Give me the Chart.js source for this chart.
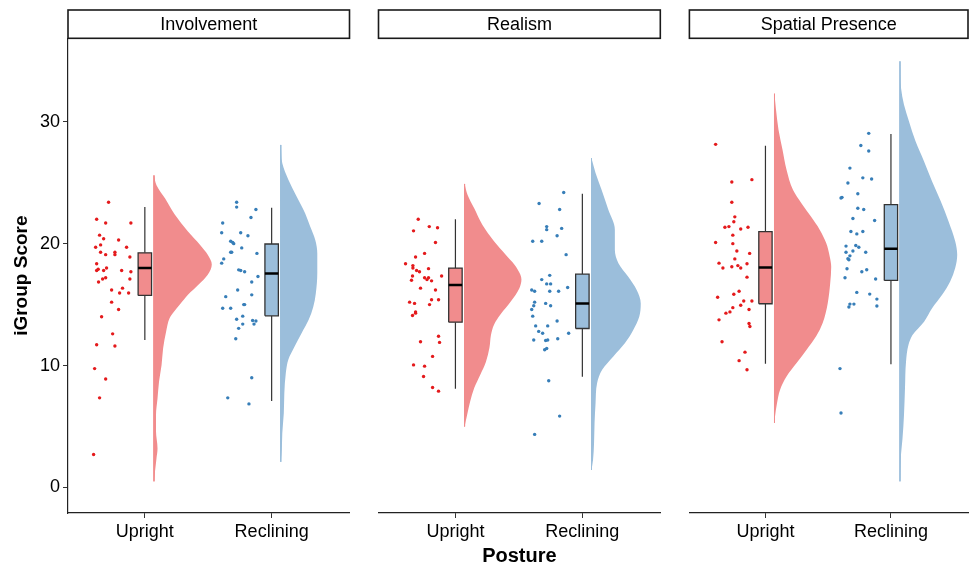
<!DOCTYPE html>
<html>
<head>
<meta charset="utf-8">
<script src="https://cdn.jsdelivr.net/npm/chart.js@4.4.1/dist/chart.umd.min.js"></script>
<style>
body { margin: 0; background: #fff; }
#wrap { position: relative; width: 972px; height: 568px; }
#wrap canvas { position: absolute; left: 0; top: 0; }
</style>
</head>
<body>
<div id="wrap">
  <canvas id="c0" width="972" height="568"></canvas>
  <canvas id="c1" width="972" height="568"></canvas>
  <canvas id="c2" width="972" height="568"></canvas>
</div>
<script>
var facets = ['Involvement', 'Realism', 'Spatial Presence'];
var postures = ['Upright', 'Reclining'];
var yTicks = [0, 10, 20, 30];

// points: [jitter offset from category, score]
var involvementUpright = [[-0.286,23.4],[-0.380,22.0],[-0.309,21.7],[-0.110,21.7],[-0.357,20.7],[-0.325,20.4],[-0.207,20.3],[-0.349,19.9],[-0.388,19.7],[-0.144,19.7],[-0.349,19.3],[-0.236,19.3],[-0.309,19.1],[-0.236,19.1],[-0.118,18.9],[-0.380,18.35],[-0.302,18.0],[-0.368,17.9],[-0.380,17.8],[-0.325,17.8],[-0.183,17.8],[-0.110,17.7],[-0.309,17.2],[-0.333,17.1],[-0.118,17.1],[-0.365,16.85],[-0.176,16.35],[-0.262,16.2],[-0.199,15.95],[-0.128,15.95],[-0.262,15.2],[-0.207,14.6],[-0.341,14.0],[-0.254,12.6],[-0.380,11.7],[-0.236,11.6],[-0.396,9.75],[-0.309,8.9],[-0.357,7.35],[-0.404,2.7]];
var involvementReclining = [[-0.276,23.4],[-0.276,23.0],[-0.124,22.8],[-0.163,22.15],[-0.386,21.7],[-0.394,20.9],[-0.244,20.9],[-0.187,20.65],[-0.323,20.2],[-0.307,20.1],[-0.299,20.0],[-0.236,19.65],[-0.323,19.3],[-0.315,19.3],[-0.116,19.2],[-0.378,18.75],[-0.394,18.4],[-0.260,17.85],[-0.244,17.8],[-0.213,17.7],[-0.108,17.3],[-0.157,16.85],[-0.268,16.2],[-0.157,15.8],[-0.362,15.65],[-0.220,15.0],[-0.213,15.0],[-0.386,14.7],[-0.323,14.7],[-0.228,14.05],[-0.276,13.8],[-0.150,13.7],[-0.124,13.65],[-0.228,13.4],[-0.139,13.4],[-0.260,13.05],[-0.283,12.2],[-0.157,9.0],[-0.346,7.35],[-0.179,6.85]];
var realismUpright = [[-0.293,22.0],[-0.206,21.4],[-0.141,21.3],[-0.330,21.05],[-0.157,20.1],[-0.243,19.2],[-0.314,18.9],[-0.393,18.35],[-0.335,18.2],[-0.335,18.0],[-0.212,17.95],[-0.306,17.8],[-0.283,17.7],[-0.109,17.35],[-0.338,17.35],[-0.243,17.2],[-0.212,17.2],[-0.224,17.05],[-0.188,16.95],[-0.346,17.0],[-0.275,16.35],[-0.157,16.2],[-0.188,15.4],[-0.133,15.4],[-0.361,15.2],[-0.322,15.1],[-0.204,15.0],[-0.314,14.4],[-0.314,14.3],[-0.338,14.1],[-0.133,12.4],[-0.125,11.9],[-0.275,11.95],[-0.180,10.75],[-0.330,10.05],[-0.243,9.95],[-0.251,9.1],[-0.180,8.2],[-0.133,7.9]];
var realismReclining = [[-0.147,24.2],[-0.341,23.3],[-0.179,22.8],[-0.281,21.4],[-0.281,21.15],[-0.163,21.25],[-0.199,20.65],[-0.391,20.2],[-0.320,20.2],[-0.128,19.1],[-0.257,17.4],[-0.320,17.05],[-0.281,16.7],[-0.250,16.7],[-0.116,16.4],[-0.399,16.2],[-0.376,16.1],[-0.257,16.1],[-0.187,16.1],[-0.376,15.2],[-0.289,15.1],[-0.383,14.9],[-0.250,14.9],[-0.399,14.6],[-0.391,14.05],[-0.199,13.65],[-0.368,13.25],[-0.273,13.25],[-0.344,12.8],[-0.313,12.65],[-0.108,12.65],[-0.383,12.1],[-0.289,12.05],[-0.273,12.1],[-0.194,12.2],[-0.297,11.3],[-0.281,11.4],[-0.265,8.75],[-0.179,5.85],[-0.376,4.35]];
var spatialUpright = [[-0.397,28.15],[-0.268,25.06],[-0.108,25.25],[-0.268,23.4],[-0.244,22.2],[-0.252,21.8],[-0.323,21.35],[-0.291,21.4],[-0.197,21.2],[-0.139,21.35],[-0.260,20.7],[-0.397,20.1],[-0.260,20.0],[-0.228,19.4],[-0.126,19.2],[-0.244,18.75],[-0.370,18.4],[-0.339,18.0],[-0.268,18.1],[-0.220,18.2],[-0.197,18.0],[-0.147,18.35],[-0.147,17.25],[-0.210,16.1],[-0.252,15.85],[-0.381,15.6],[-0.173,15.3],[-0.108,15.3],[-0.197,14.95],[-0.260,14.75],[-0.131,14.6],[-0.315,14.3],[-0.283,14.4],[-0.370,13.75],[-0.131,13.45],[-0.124,13.2],[-0.346,11.95],[-0.163,11.1],[-0.210,10.4],[-0.147,9.65]];
var spatialReclining = [[-0.177,29.05],[-0.240,28.06],[-0.177,27.6],[-0.327,26.2],[-0.224,25.4],[-0.154,25.3],[-0.343,24.98],[-0.264,24.1],[-0.398,23.75],[-0.390,23.8],[-0.264,22.9],[-0.217,22.8],[-0.303,22.07],[-0.130,21.9],[-0.319,21.0],[-0.272,20.8],[-0.224,21.0],[-0.358,19.8],[-0.280,19.85],[-0.256,19.7],[-0.358,19.3],[-0.303,19.4],[-0.201,19.3],[-0.327,19.0],[-0.343,18.76],[-0.335,18.68],[-0.350,17.94],[-0.232,17.7],[-0.193,17.86],[-0.366,17.2],[-0.122,17.1],[-0.272,16.0],[-0.169,15.86],[-0.112,15.45],[-0.327,15.04],[-0.295,15.04],[-0.335,14.8],[-0.112,14.88],[-0.406,9.75],[-0.398,6.1]];

// box stats: [lower whisker, q1, median, q3, upper whisker]
var involvementUprightBox = [12.1, 15.75, 18.0, 19.25, 23.0];
var involvementRecliningBox = [7.1, 14.08, 17.55, 19.97, 22.95];
var realismUprightBox = [8.1, 13.56, 16.6, 18.0, 22.0];
var realismRecliningBox = [9.07, 13.04, 15.1, 17.5, 24.1];
var spatialUprightBox = [10.14, 15.07, 18.05, 20.98, 28.04];
var spatialRecliningBox = [10.1, 16.98, 19.58, 23.2, 29.0];

// density curves: [score, density]
var involvementUprightDensity = [[25.6,0],[24.8,.005],[23.7,.022],[22.4,.041],[21.0,.067],[19.9,.091],[19.1,.106],[18.3,.114],[17.45,.106],[16.6,.087],[15.8,.067],[15.0,.051],[14.4,.039],[13.9,.031],[12.8,.024],[11.4,.018],[10.05,.015],[8.7,.010],[7.3,.007],[5.95,.004],[4.6,.004],[3.2,.007],[2.4,.005],[1.3,.002],[0.5,0]];
var involvementRecliningDensity = [[28.1,0],[26.6,.003],[25.25,.015],[23.9,.031],[22.5,.048],[21.4,.058],[20.3,.068],[19.2,.072],[17.6,.072],[15.9,.069],[14.8,.064],[13.75,.055],[12.65,.041],[11.55,.027],[10.5,.015],[9.4,.010],[7.7,.007],[6.1,.006],[4.45,.003],[3.1,.002],[2.1,0]];
var realismUprightDensity = [[24.9,0],[24.0,.006],[22.9,.019],[21.55,.035],[20.2,.058],[19.1,.081],[18.3,.098],[17.45,.110],[17.05,.112],[16.35,.108],[15.25,.091],[14.2,.071],[13.35,.058],[12.5,.052],[11.45,.049],[10.3,.042],[9.25,.031],[8.15,.019],[7.05,.011],[5.95,.005],[5.0,0]];
var realismRecliningDensity = [[27.0,0],[25.8,.008],[24.4,.020],[22.8,.033],[21.15,.046],[19.5,.046],[18.4,.053],[17.3,.072],[16.2,.089],[15.1,.097],[14.0,.094],[12.9,.082],[11.85,.066],[10.75,.043],[9.65,.021],[8.55,.011],[6.9,.008],[5.25,.006],[3.6,.005],[2.25,.003],[1.45,0]];
var spatialUprightDensity = [[32.3,0],[31.0,.003],[29.35,.008],[27.7,.016],[26.07,.024],[24.4,.037],[23.3,.054],[22.2,.073],[21.15,.090],[20.05,.103],[18.95,.110],[18.1,.113],[16.75,.111],[15.1,.106],[13.5,.096],[12.4,.083],[11.3,.064],[10.2,.044],[9.1,.024],[8.0,.011],[6.9,.005],[5.8,.001],[5.3,0]];
var spatialRecliningDensity = [[34.96,0],[32.8,.002],[31.4,.008],[30.03,.018],[28.4,.031],[26.75,.048],[25.1,.064],[23.5,.081],[21.8,.097],[20.2,.110],[19.1,.114],[18.0,.110],[16.9,.100],[15.8,.084],[14.7,.064],[13.6,.048],[12.5,.025],[11.7,.017],[10.3,.012],[8.15,.010],[5.95,.008],[4.0,.005],[2.67,.002],[0.5,0]];

var groups = [
  [{pts: involvementUpright, box: involvementUprightBox, dens: involvementUprightDensity},
   {pts: involvementReclining, box: involvementRecliningBox, dens: involvementRecliningDensity}],
  [{pts: realismUpright, box: realismUprightBox, dens: realismUprightDensity},
   {pts: realismReclining, box: realismRecliningBox, dens: realismRecliningDensity}],
  [{pts: spatialUpright, box: spatialUprightBox, dens: spatialUprightDensity},
   {pts: spatialReclining, box: spatialRecliningBox, dens: spatialRecliningDensity}]
];

var pointColors = ['#E41A1C', '#377EB8'];
var fillColors = ['#F18C8D', '#9BBEDB'];

var panelLeft = [67.7, 378.5, 689.4];
var panelWidth = 281.8;
var xMin = 0.394, xMax = 2.614;
var yMin = -2.1, yMax = 36.85;
var nudge = 0.072, boxHalf = 0.053, violinScale = 4;
var fam = '"Liberation Sans", Arial, sans-serif';

Chart.defaults.font.family = fam;

var stripPlugin = {
  id: 'strip',
  afterDraw: function(chart, args, opts) {
    var a = chart.chartArea, ctx = chart.ctx;
    ctx.save();
    ctx.fillStyle = '#fff';
    ctx.fillRect(a.left, 10, a.right - a.left, 28.3);
    ctx.strokeStyle = '#1a1a1a';
    ctx.lineWidth = 1.6;
    ctx.strokeRect(a.left, 10, a.right - a.left, 28.3);
    ctx.fillStyle = '#000';
    ctx.font = '18px ' + fam;
    ctx.textAlign = 'center';
    ctx.textBaseline = 'middle';
    ctx.fillText(opts.text, (a.left + a.right) / 2, 25);
    ctx.restore();
  }
};

function line(data, color, width) {
  return {data: data, showLine: true, borderColor: color, borderWidth: width, pointRadius: 0, fill: false};
}

function makePanel(i) {
  var ds = [];
  groups[i].forEach(function(g, k) {
    var c = k + 1, b = g.box;
    ds.push(line([{x: c - boxHalf, y: b[2]}, {x: c + boxHalf, y: b[2]}], '#000', 2.5));
    var box = line([{x: c - boxHalf, y: b[1]}, {x: c + boxHalf, y: b[1]}, {x: c + boxHalf, y: b[3]}, {x: c - boxHalf, y: b[3]}, {x: c - boxHalf, y: b[1]}], '#333', 1.3);
    box.fill = 'shape';
    box.backgroundColor = fillColors[k];
    ds.push(box);
    ds.push(line([{x: c, y: b[0]}, {x: c, y: b[1]}], '#333', 1.2));
    ds.push(line([{x: c, y: b[3]}, {x: c, y: b[4]}], '#333', 1.2));
    ds.push({
      data: g.pts.map(function(p) { return {x: c + p[0], y: p[1]}; }),
      showLine: false, pointRadius: 1.7, pointBorderWidth: 0,
      pointBackgroundColor: pointColors[k]
    });
    var base = c + nudge;
    var v = line(g.dens.map(function(d) { return {x: base + d[1] * violinScale, y: d[0]}; }), 'rgba(0,0,0,0)', 0);
    v.indexAxis = 'y';
    v.cubicInterpolationMode = 'monotone';
    v.fill = {value: base};
    v.backgroundColor = fillColors[k];
    ds.push(v);
    // thin stem marking the full extent of the density
    ds.push(line([{x: base, y: g.dens[0][0]}, {x: base, y: g.dens[g.dens.length - 1][0]}], fillColors[k], 1));
  });

  var tickFont = {size: 18, family: fam};
  new Chart(document.getElementById('c' + i), {
    type: 'scatter',
    data: {datasets: ds},
    plugins: [stripPlugin],
    options: {
      responsive: false,
      animation: false,
      layout: {padding: {left: i === 0 ? 10 : panelLeft[i], right: 972 - panelLeft[i] - panelWidth, top: 38.3, bottom: 0}},
      plugins: {legend: {display: false}, tooltip: {enabled: false}, strip: {text: facets[i]}},
      scales: {
        x: {
          type: 'linear', min: xMin, max: xMax,
          afterBuildTicks: function(s) { s.ticks = [1, 2].map(function(v) { return {value: v}; }); },
          afterFit: function(s) { s.height = 55; },
          ticks: {callback: function(v) { return postures[v - 1]; }, color: '#000', font: tickFont, padding: 3, maxRotation: 0, autoSkip: false},
          grid: {display: true, drawOnChartArea: false, drawTicks: true, tickLength: 5, color: '#333'},
          border: {display: true, color: '#222', width: 1.2},
          title: {display: i === 1, text: 'Posture', color: '#000', font: {size: 20, weight: 'bold', family: fam}, padding: 0}
        },
        y: {
          type: 'linear', min: yMin, max: yMax, display: i === 0,
          afterBuildTicks: function(s) { s.ticks = yTicks.map(function(v) { return {value: v}; }); },
          afterFit: function(s) { s.width = i === 0 ? 58 : 0; },
          ticks: {color: '#000', font: tickFont, padding: 3},
          grid: {display: true, drawOnChartArea: false, drawTicks: true, tickLength: 5, color: '#333'},
          border: {display: true, color: '#222', width: 1.2},
          title: {display: true, text: 'iGroup Score', color: '#000', font: {size: 19, weight: 'bold', family: fam}, padding: 0}
        }
      }
    }
  });
}

[0, 1, 2].forEach(makePanel);
</script>
</body>
</html>
